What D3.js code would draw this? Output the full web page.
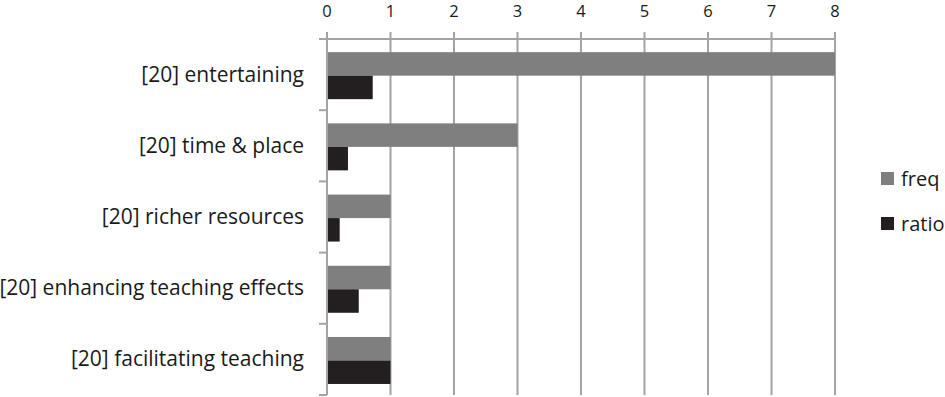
<!DOCTYPE html>
<html>
<head>
<meta charset="utf-8">
<script src="https://cdn.jsdelivr.net/npm/d3@7"></script>
<style>
  body { margin: 0; background: #fff; }
  svg { display: block; font-family: "Open Sans", Lato, sans-serif; }
</style>
</head>
<body>
<svg id="canvas" width="945" height="397"></svg>
<script>
// chart data
const categories = ['[20] entertaining', '[20] time & place', '[20] richer resources', '[20] enhancing teaching effects', '[20] facilitating teaching']
const freq = [8, 3, 1, 1, 1]
const ratio = [0.72, 0.33, 0.2, 0.5, 1]
const seriesNames = ['freq', 'ratio']
const xTicks = [0, 1, 2, 3, 4, 5, 6, 7, 8]

const colors = { freq: '#7f7f7f', ratio: '#231f20' }
const gridColor = '#a3a3a3'

let canvas = d3.select('#canvas')

let x = d3.scaleLinear().domain([0, 8]).range([327, 835])
let y = d3.scaleBand().domain(categories).range([39, 395])
let bw = y.bandwidth()
let ySeries = d3.scaleBand().domain(seriesNames).range([bw * 0.185, bw * 0.845])

// vertical gridlines + top ticks
canvas.append('g')
    .selectAll('line')
    .data(xTicks)
    .enter()
    .append('line')
    .attr('x1', (d) => x(d))
    .attr('x2', (d) => x(d))
    .attr('y1', 32)
    .attr('y2', 395)
    .attr('stroke', gridColor)
    .attr('stroke-width', 2)

// top axis line
canvas.append('line')
    .attr('x1', 319).attr('x2', x(8))
    .attr('y1', 39).attr('y2', 39)
    .attr('stroke', gridColor)
    .attr('stroke-width', 2)

// left axis ticks at band boundaries
let boundaries = categories.map((c) => y(c)).concat([y(categories[categories.length - 1]) + bw])
canvas.append('g')
    .selectAll('line')
    .data(boundaries)
    .enter()
    .append('line')
    .attr('x1', 319).attr('x2', x(0))
    .attr('y1', (d) => d).attr('y2', (d) => d)
    .attr('stroke', gridColor)
    .attr('stroke-width', 2)

// top tick labels
canvas.append('g')
    .selectAll('text')
    .data(xTicks)
    .enter()
    .append('text')
    .attr('x', (d) => x(d))
    .attr('y', 17)
    .attr('text-anchor', 'middle')
    .attr('font-size', 16.5)
    .attr('fill', '#1a1a1a')
    .text((d) => d)

// bars
let rows = categories.map((c, i) => ({ cat: c, freq: freq[i], ratio: ratio[i] }))

let group = canvas.selectAll('g.row')
    .data(rows)
    .enter()
    .append('g')
    .attr('class', 'row')
    .attr('transform', (d) => 'translate(0,' + y(d.cat) + ')')

group.selectAll('rect')
    .data((d) => seriesNames.map((s) => ({ key: s, value: d[s] })))
    .enter()
    .append('rect')
    .attr('x', x(0))
    .attr('y', (d) => ySeries(d.key))
    .attr('width', (d) => x(d.value) - x(0))
    .attr('height', ySeries.bandwidth())
    .attr('fill', (d) => colors[d.key])

// left axis line on top of bars
canvas.append('line')
    .attr('x1', x(0)).attr('x2', x(0))
    .attr('y1', 39).attr('y2', 395)
    .attr('stroke', gridColor)
    .attr('stroke-width', 2)

// category labels
canvas.append('g')
    .selectAll('text')
    .data(categories)
    .enter()
    .append('text')
    .attr('x', 304)
    .attr('y', (d) => y(d) + bw / 2 + 7)
    .attr('text-anchor', 'end')
    .attr('font-size', 21)
    .attr('fill', '#1a1a1a')
    .text((d) => d)

// legend
let legend = canvas.append('g')
    .selectAll('g')
    .data(seriesNames)
    .enter()
    .append('g')
    .attr('transform', (d, i) => 'translate(881,' + (172 + i * 45) + ')')

legend.append('rect')
    .attr('width', 13)
    .attr('height', 13)
    .attr('fill', (d) => colors[d])

legend.append('text')
    .attr('x', 20)
    .attr('y', 14)
    .attr('font-size', 20)
    .attr('fill', '#1a1a1a')
    .text((d) => d)
</script>
</body>
</html>
